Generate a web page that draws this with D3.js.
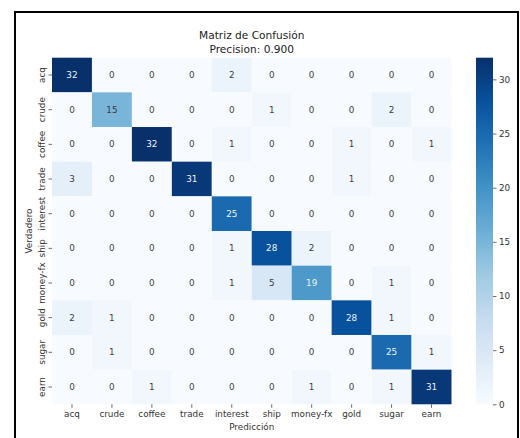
<!DOCTYPE html>
<html>
<head>
<meta charset="utf-8">
<script src="https://cdn.jsdelivr.net/npm/d3@7"></script>
<style>
  html, body { margin: 0; padding: 0; background: #fff; }
  svg { display: block; font-family: "DejaVu Sans", sans-serif; }
</style>
</head>
<body>
<svg id="chart" width="520" height="438"></svg>
<script>
// Class labels (rows = true class, columns = predicted class)
const classes = ["acq", "crude", "coffee", "trade", "interest", "ship", "money-fx", "gold", "sugar", "earn"];

// Confusion matrix counts, one array per true class
const rowAcq      = [32, 0, 0, 0, 2, 0, 0, 0, 0, 0];
const rowCrude    = [0, 15, 0, 0, 0, 1, 0, 0, 2, 0];
const rowCoffee   = [0, 0, 32, 0, 1, 0, 0, 1, 0, 1];
const rowTrade    = [3, 0, 0, 31, 0, 0, 0, 1, 0, 0];
const rowInterest = [0, 0, 0, 0, 25, 0, 0, 0, 0, 0];
const rowShip     = [0, 0, 0, 0, 1, 28, 2, 0, 0, 0];
const rowMoneyFx  = [0, 0, 0, 0, 1, 5, 19, 0, 1, 0];
const rowGold     = [2, 1, 0, 0, 0, 0, 0, 28, 1, 0];
const rowSugar    = [0, 1, 0, 0, 0, 0, 0, 0, 25, 1];
const rowEarn     = [0, 0, 1, 0, 0, 0, 1, 0, 1, 31];

const colorbarTicks = [0, 5, 10, 15, 20, 25, 30];
const titleLines = ["Matriz de Confusión", "Precision: 0.900"];
const xLabel = "Predicción";
const yLabel = "Verdadero";

const matrix = [rowAcq, rowCrude, rowCoffee, rowTrade, rowInterest, rowShip, rowMoneyFx, rowGold, rowSugar, rowEarn];
const cells = [];
matrix.forEach((row, r) => row.forEach((v, c) => cells.push({ r: classes[r], c: classes[c], v })));

const svg = d3.select("#chart");

// Outer frame
svg.append("rect")
  .attr("x", 15).attr("y", 12)
  .attr("width", 503).attr("height", 440)
  .attr("fill", "#fff")
  .attr("stroke", "#000").attr("stroke-width", 2);

const plotLeft = 52, plotTop = 57.7, plotRight = 451.5, plotBottom = 404.3;

const x = d3.scaleBand().domain(classes).range([plotLeft, plotRight]);
const y = d3.scaleBand().domain(classes).range([plotTop, plotBottom]);

// Matplotlib "Blues" stops
const bluesStops = ["#f7fbff", "#deebf7", "#c6dbef", "#9ecae1", "#6baed6", "#4292c6", "#2171b5", "#08519c", "#08306b"];
const vmin = 0, vmax = 32;
const color = d3.scaleLinear()
  .domain(bluesStops.map((_, i) => vmin + (vmax - vmin) * i / (bluesStops.length - 1)))
  .range(bluesStops)
  .clamp(true);

function luminance(c) {
  const rgb = d3.rgb(c);
  const f = ch => { ch /= 255; return ch <= 0.03928 ? ch / 12.92 : Math.pow((ch + 0.055) / 1.055, 2.4); };
  return 0.2126 * f(rgb.r) + 0.7152 * f(rgb.g) + 0.0722 * f(rgb.b);
}

// Heatmap cells
svg.append("g").selectAll("rect")
  .data(cells)
  .join("rect")
  .attr("x", d => x(d.c))
  .attr("y", d => y(d.r))
  .attr("width", x.bandwidth())
  .attr("height", y.bandwidth())
  .attr("fill", d => color(d.v));

// Annotations
svg.append("g").selectAll("text")
  .data(cells)
  .join("text")
  .attr("x", d => x(d.c) + x.bandwidth() / 2)
  .attr("y", d => y(d.r) + y.bandwidth() / 2)
  .attr("text-anchor", "middle")
  .attr("dominant-baseline", "central")
  .attr("font-size", 8.8)
  .attr("fill", d => luminance(color(d.v)) > 0.408 ? "#3d3d3d" : "#eef4fb")
  .text(d => d.v);

// Bottom axis
const xAxis = svg.append("g")
  .attr("transform", `translate(0,${plotBottom})`)
  .call(d3.axisBottom(x).tickSize(3.5).tickPadding(3));
xAxis.select(".domain").remove();
xAxis.selectAll("line").attr("stroke", "#444").attr("stroke-width", 0.8);
xAxis.selectAll("text").attr("font-size", 8.8).attr("fill", "#333").attr("font-family", "DejaVu Sans");

// Left axis, labels rotated vertically
const yAxis = svg.append("g")
  .attr("transform", `translate(${plotLeft},0)`)
  .call(d3.axisLeft(y).tickSize(3.5).tickPadding(3));
yAxis.select(".domain").remove();
yAxis.selectAll("line").attr("stroke", "#444").attr("stroke-width", 0.8);
yAxis.selectAll("text")
  .attr("font-size", 8.8).attr("fill", "#333").attr("font-family", "DejaVu Sans")
  .attr("x", null).attr("dy", null)
  .attr("text-anchor", "middle")
  .attr("dominant-baseline", "central")
  .attr("transform", "translate(-10,0) rotate(-90)");

// Axis titles
svg.append("text")
  .attr("x", (plotLeft + plotRight) / 2).attr("y", 427)
  .attr("text-anchor", "middle").attr("dominant-baseline", "central")
  .attr("font-size", 8.8).attr("fill", "#333")
  .text(xLabel);

svg.append("text")
  .attr("transform", `translate(29,${(plotTop + plotBottom) / 2}) rotate(-90)`)
  .attr("text-anchor", "middle").attr("dominant-baseline", "central")
  .attr("font-size", 8.8).attr("fill", "#333")
  .text(yLabel);

// Title
svg.append("g").selectAll("text")
  .data(titleLines)
  .join("text")
  .attr("x", (plotLeft + plotRight) / 2)
  .attr("y", (d, i) => 35 + i * 13.8)
  .attr("text-anchor", "middle").attr("dominant-baseline", "central")
  .attr("font-size", 10.6).attr("fill", "#222")
  .text(d => d);

// Colorbar
const cbX = 476, cbW = 17;
const cbScale = d3.scaleLinear().domain([vmin, vmax]).range([plotBottom, plotTop]);
const defs = svg.append("defs");
const grad = defs.append("linearGradient")
  .attr("id", "cbGrad")
  .attr("x1", 0).attr("y1", 1).attr("x2", 0).attr("y2", 0);
grad.selectAll("stop")
  .data(bluesStops)
  .join("stop")
  .attr("offset", (d, i) => i / (bluesStops.length - 1))
  .attr("stop-color", d => d);

svg.append("rect")
  .attr("x", cbX).attr("y", plotTop)
  .attr("width", cbW).attr("height", plotBottom - plotTop)
  .attr("fill", "url(#cbGrad)");

const cbAxis = svg.append("g")
  .attr("transform", `translate(${cbX + cbW},0)`)
  .call(d3.axisRight(cbScale).tickValues(colorbarTicks).tickSize(3.5).tickPadding(2.5));
cbAxis.select(".domain").remove();
cbAxis.selectAll("line").attr("stroke", "#444").attr("stroke-width", 0.8);
cbAxis.selectAll("text").attr("font-size", 8.8).attr("fill", "#333").attr("font-family", "DejaVu Sans");
</script>
</body>
</html>
